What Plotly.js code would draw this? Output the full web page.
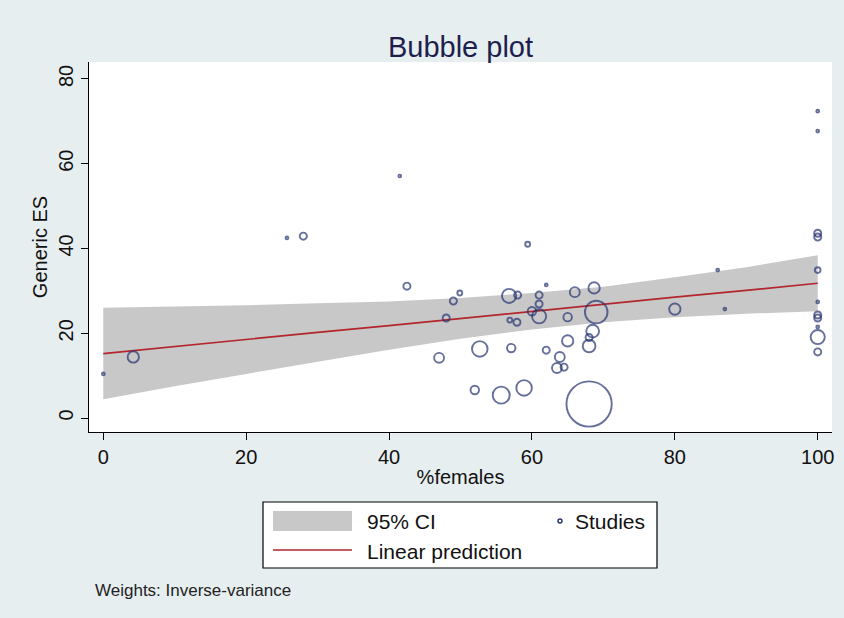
<!DOCTYPE html>
<html>
<head>
<meta charset="utf-8">
<script src="https://cdn.plot.ly/plotly-3.0.1.min.js"></script>
<style>html,body{margin:0;padding:0;background:#e7eef0;}#chart{width:844px;height:618px;}</style>
</head>
<body>
<div id="chart"></div>
<script>
// Studies
const pctFemales = [0, 4.2, 25.7, 28.0, 41.5, 42.5, 49.9, 49.0, 48.0, 47.0,
  59.4, 52.7, 52.0, 55.7, 58.9, 57.1, 56.8, 58.0, 56.9, 57.9,
  61.0, 62.0, 61.0, 60.0, 61.0, 62.0, 63.9, 63.5, 64.5, 65.0,
  65.0, 66.0, 68.7, 69.0, 68.5, 68.0, 68.0, 68.0, 80.0, 87.0,
  86.0, 100, 100, 100, 100, 100, 100, 100, 100, 100, 100, 100];
const genericES = [10.4, 14.4, 42.5, 42.9, 57.1, 31.1, 29.5, 27.6, 23.6, 14.2,
  41.0, 16.3, 6.6, 5.4, 7.1, 16.5, 28.8, 29.0, 23.1, 22.6,
  29.0, 31.4, 26.9, 25.2, 24.0, 16.0, 14.4, 11.8, 12.0, 18.2,
  23.8, 29.7, 30.7, 25.0, 20.5, 19.0, 17.0, 3.3, 25.7, 25.7,
  34.9, 72.4, 67.7, 43.6, 42.7, 34.9, 27.4, 24.3, 23.6, 21.5, 19.1, 15.6];
const weights = [4, 64, 4, 25, 4, 25, 12, 25, 25, 49,
  12, 121, 36, 144, 121, 36, 100, 25, 12, 25,
  25, 4, 25, 36, 100, 25, 49, 49, 25, 64,
  36, 49, 64, 256, 81, 25, 81, 1024, 64, 4,
  4, 4, 4, 25, 25, 16, 4, 25, 25, 4, 100, 25];

// Fitted line and 95% CI
const fitX = [0, 10, 20, 30, 40, 50, 60, 70, 80, 90, 100];
const fitY = [15.2, 16.9, 18.5, 20.2, 21.8, 23.5, 25.2, 26.8, 28.5, 30.1, 31.8];
const ciLower = [4.4, 7.5, 10.4, 13.3, 16.1, 18.7, 20.9, 22.6, 23.8, 24.6, 25.2];
const ciUpper = [26.0, 26.3, 26.6, 27.1, 27.5, 28.3, 29.5, 31.0, 33.2, 35.6, 38.4];

const xTicks = [0, 20, 40, 60, 80, 100];
const yTicks = [0, 20, 40, 60, 80];

const navy = '#25336f';
const font = 'Liberation Sans, Arial, sans-serif';

const traces = [
  {x: fitX, y: ciLower, mode: 'lines', line: {width: 0, color: 'rgba(0,0,0,0)'}, hoverinfo: 'skip', showlegend: false},
  {x: fitX, y: ciUpper, mode: 'lines', fill: 'tonexty', fillcolor: '#c8c8c8', line: {width: 0, color: 'rgba(0,0,0,0)'}, name: '95% CI', showlegend: false},
  {x: fitX, y: fitY, mode: 'lines', line: {color: '#b3262c', width: 1.7}, name: 'Linear prediction', showlegend: false},
  {x: pctFemales, y: genericES, mode: 'markers', name: 'Studies', showlegend: false,
   marker: {symbol: 'circle-open', size: weights, sizemode: 'area', sizeref: 1, color: navy, line: {color: navy, width: 1.9}}}
];

// legend drawn in paper coordinates
const px = v => (v - 89) / 743;
const py = v => (432 - v) / 370;

const layout = {
  width: 844, height: 618,
  paper_bgcolor: '#e7eef0', plot_bgcolor: '#ffffff',
  margin: {l: 89, r: 12, t: 62, b: 186},
  font: {family: font, color: '#111'},
  title: {text: 'Bubble plot', font: {family: font, size: 29, color: '#1e1e4e'}, x: 0.5, xref: 'paper', y: 1 - 47/618, yref: 'container', yanchor: 'middle'},
  xaxis: {range: [-2, 102], tickvals: xTicks, ticktext: xTicks.map(String), showgrid: false, zeroline: false,
    showline: true, linecolor: '#000', linewidth: 1, ticks: 'outside', ticklen: 7, tickcolor: '#000',
    tickfont: {family: font, size: 20, color: '#111'},
    title: {text: '%females', font: {family: font, size: 20, color: '#111'}, standoff: 2}},
  yaxis: {range: [-3.3, 84], tickvals: yTicks, ticktext: yTicks.map(String), showgrid: false, zeroline: false,
    showline: true, linecolor: '#000', linewidth: 1, ticks: 'outside', ticklen: 7, tickcolor: '#000', tickangle: -90,
    tickfont: {family: font, size: 20, color: '#111'},
    title: {text: 'Generic ES', font: {family: font, size: 20, color: '#111'}, standoff: 2}},
  showlegend: false,
  shapes: [
    {type: 'rect', xref: 'paper', yref: 'paper', x0: px(263), x1: px(657), y0: py(502), y1: py(568), fillcolor: '#ffffff', line: {color: '#000', width: 1.2}},
    {type: 'rect', xref: 'paper', yref: 'paper', x0: px(273), x1: px(352), y0: py(511), y1: py(531), fillcolor: '#c8c8c8', line: {width: 0}},
    {type: 'line', xref: 'paper', yref: 'paper', x0: px(273), x1: px(352), y0: py(550), y1: py(550), line: {color: '#b3262c', width: 1.7}},
    {type: 'circle', xref: 'paper', yref: 'paper', xsizemode: 'pixel', ysizemode: 'pixel', xanchor: px(560), yanchor: py(521), x0: -2, x1: 2, y0: -2, y1: 2, line: {color: navy, width: 1.4}}
  ],
  annotations: [
    {text: '95% CI', xref: 'paper', yref: 'paper', x: px(365), y: py(521), xanchor: 'left', yanchor: 'middle', showarrow: false, font: {family: font, size: 21, color: '#111'}},
    {text: 'Studies', xref: 'paper', yref: 'paper', x: px(573), y: py(521), xanchor: 'left', yanchor: 'middle', showarrow: false, font: {family: font, size: 21, color: '#111'}},
    {text: 'Linear prediction', xref: 'paper', yref: 'paper', x: px(365), y: py(551), xanchor: 'left', yanchor: 'middle', showarrow: false, font: {family: font, size: 21, color: '#111'}},
    {text: 'Weights: Inverse-variance', xref: 'paper', yref: 'paper', x: px(93), y: py(590), xanchor: 'left', yanchor: 'middle', showarrow: false, font: {family: font, size: 17, color: '#222'}}
  ]
};

Plotly.newPlot('chart', traces, layout, {displayModeBar: false, staticPlot: true});
</script>
</body>
</html>
